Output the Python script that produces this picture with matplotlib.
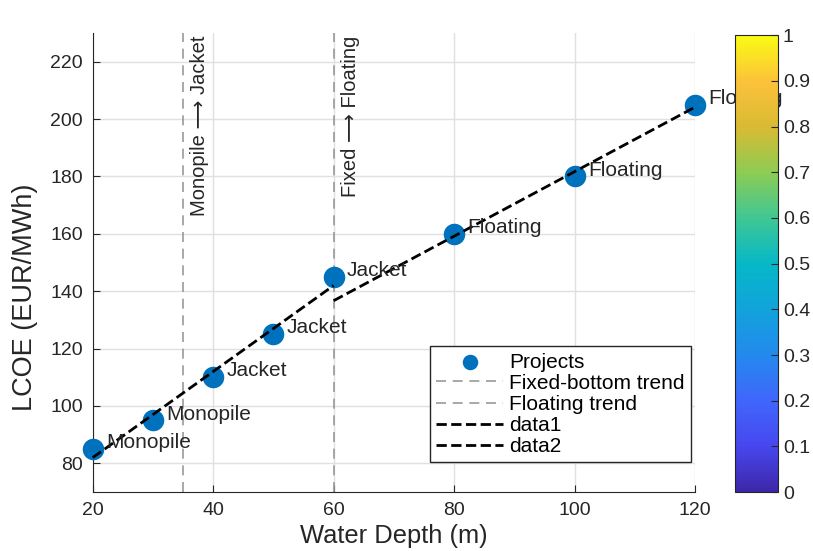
import numpy as np
import matplotlib.pyplot as plt
from matplotlib.colors import LinearSegmentedColormap
from matplotlib.cm import ScalarMappable
from matplotlib.colors import Normalize

plt.rcParams['font.family'] = ['Liberation Sans', 'DejaVu Sans']

# datos
depth = [20, 30, 40, 50, 60, 80, 100, 120]
lcoe = [85, 95, 110, 125, 145, 160, 180, 205]
tipo = ['Monopile', 'Monopile', 'Jacket', 'Jacket', 'Jacket', 'Floating', 'Floating', 'Floating']

# tendencias (extremos)
fix_x = [20, 60]
fix_y = [82, 142]
flo_x = [60, 120]
flo_y = [136.7, 204.2]

# transiciones
trans_x = [35, 60]
trans_txt = ['Monopile \u27f6 Jacket', 'Fixed \u27f6 Floating']

# colores parula aproximados
parula_pts = [(0.0, (0.2422, 0.1504, 0.6603)), (0.1, (0.278, 0.28, 0.94)),
              (0.2, (0.25, 0.40, 0.99)), (0.3, (0.14, 0.54, 0.93)),
              (0.4, (0.07, 0.64, 0.86)), (0.5, (0.02, 0.72, 0.78)),
              (0.6, (0.25, 0.78, 0.58)), (0.7, (0.55, 0.80, 0.33)),
              (0.8, (0.85, 0.73, 0.20)), (0.9, (0.99, 0.76, 0.23)),
              (1.0, (0.9769, 0.9839, 0.0805))]
parula = LinearSegmentedColormap.from_list('parula', parula_pts)

txtc = (0.15, 0.15, 0.15)
fig = plt.figure(figsize=(8.13, 5.51), dpi=100)
ax = fig.add_axes([0.114, 0.107, 0.741, 0.833])

ax.scatter(depth, lcoe, s=210, color=(0.0, 0.447, 0.741), zorder=3, label='Projects', clip_on=False)
ax.axvline(trans_x[0], color=(0.6, 0.6, 0.6), ls=(0, (6, 4)), lw=1.2, label='Fixed-bottom trend')
ax.axvline(trans_x[1], color=(0.6, 0.6, 0.6), ls=(0, (6, 4)), lw=1.2, label='Floating trend')
ax.plot(fix_x, fix_y, color='k', ls='--', lw=2, zorder=4, label='data1', clip_on=False)
ax.plot(flo_x, flo_y, color='k', ls='--', lw=2, zorder=4, label='data2', clip_on=False)

for xv, t in zip(trans_x, trans_txt):
    ax.text(xv + 1.2, 229, t, rotation=90, ha='left', va='top', fontsize=14.5, color=txtc)

for x, y, t in zip(depth, lcoe, tipo):
    ax.text(x + 2.2, y + 2.2, t, fontsize=15, color=txtc, va='center', ha='left', clip_on=False, zorder=5)

ax.set_xlim(20, 120)
ax.set_ylim(70, 230)
ax.set_xticks(np.arange(20, 121, 20))
ax.set_yticks(np.arange(80, 221, 20))
ax.grid(True, color=(0.88, 0.88, 0.88), lw=1)
ax.set_axisbelow(True)
ax.spines['top'].set_visible(False)
ax.spines['right'].set_visible(False)
for s in ['left', 'bottom']:
    ax.spines[s].set_color((0.15, 0.15, 0.15))
ax.tick_params(direction='in', length=5, labelsize=14, colors=txtc, pad=7)
ax.set_xlabel('Water Depth (m)', fontsize=18.4, color=txtc)
ax.set_ylabel('LCOE (EUR/MWh)', fontsize=19.5, color=txtc)
ax.yaxis.set_label_coords(-0.091, 0.425)

leg = ax.legend(loc='lower right', bbox_to_anchor=(0.993, 0.065), fontsize=15,
                fancybox=False, edgecolor=(0.15, 0.15, 0.15), framealpha=1,
                labelspacing=0.1, handlelength=3.2, handletextpad=0.3,
                borderpad=0.3, borderaxespad=0, markerscale=0.7)
leg.get_frame().set_linewidth(1)

cax = fig.add_axes([0.904, 0.107, 0.053, 0.829])
cax.set_zorder(10)
cb = fig.colorbar(ScalarMappable(norm=Normalize(0, 1), cmap=parula), cax=cax)
cb.set_ticks(np.arange(0, 1.01, 0.1))
cb.set_ticklabels(['0', '0.1', '0.2', '0.3', '0.4', '0.5', '0.6', '0.7', '0.8', '0.9', '1'])
cb.ax.tick_params(direction='in', length=5, labelsize=14, colors=txtc)
cb.outline.set_edgecolor((0.15, 0.15, 0.15))

fig.savefig('out.png', dpi=100)
